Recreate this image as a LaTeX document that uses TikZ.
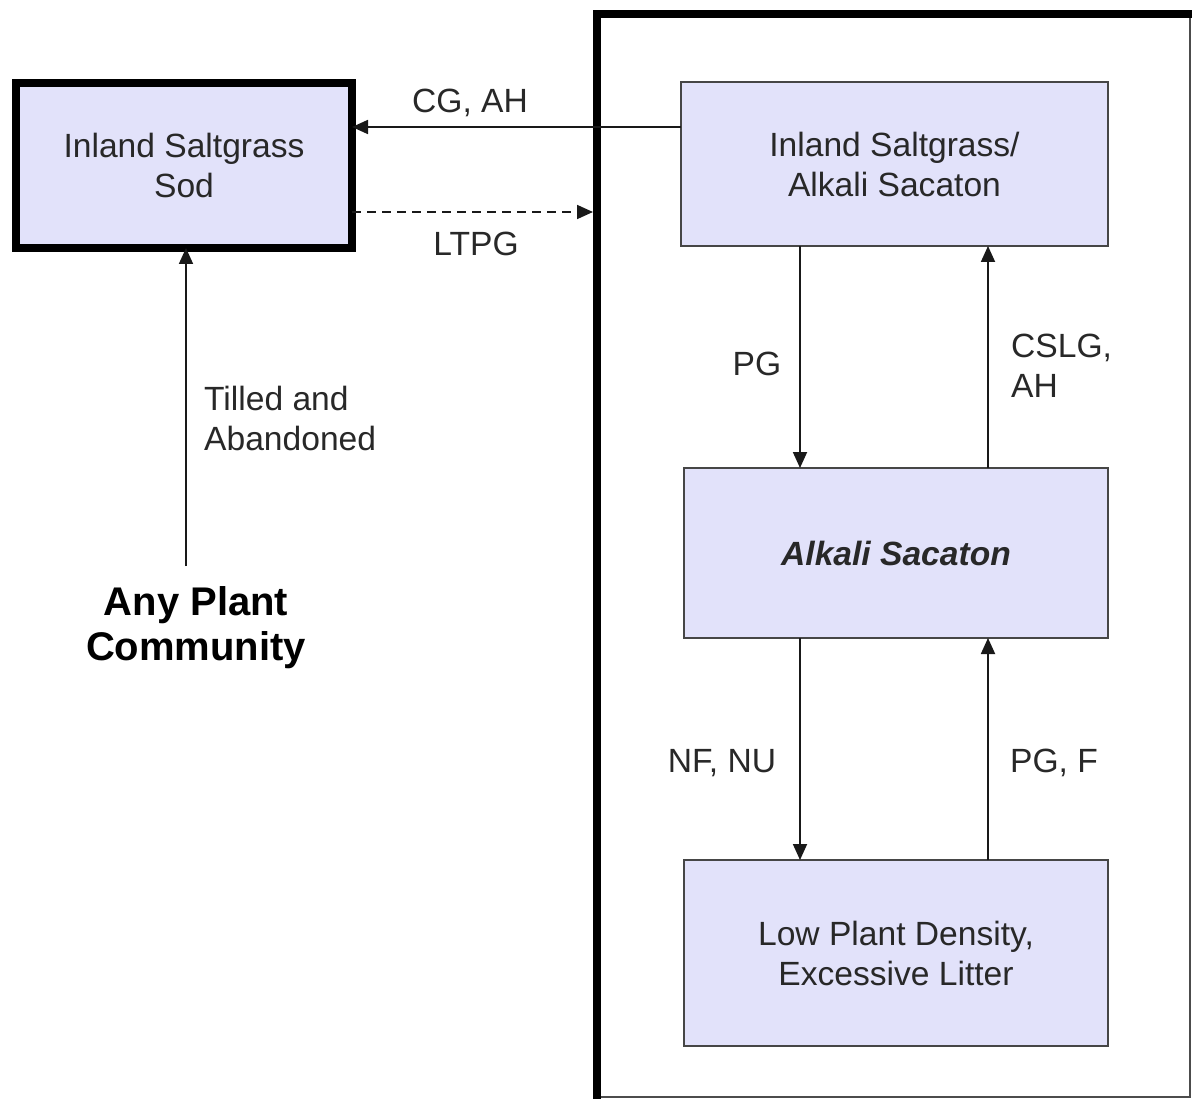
\documentclass[tikz,border=0pt]{standalone}
\usepackage{fontspec}
\setmainfont{Liberation Sans}
\usetikzlibrary{arrows.meta}
\definecolor{lav}{RGB}{226,226,250}
\definecolor{bord}{RGB}{70,70,70}
\definecolor{txt}{RGB}{40,40,40}
\tikzset{
  txtfont/.style={font=\fontsize{33.6}{40}\selectfont, text=txt},
  statebox/.style={draw=bord, line width=2.5pt, fill=lav, rectangle, inner sep=0pt, outer sep=0pt, align=center, txtfont},
  lbl/.style={txtfont, inner sep=0pt},
  arr/.style={draw=black!90, line width=1.8pt, -{Triangle[length=16pt,width=14pt]}},
}
\begin{document}
\begin{tikzpicture}[x=1pt,y=-1pt]
\useasboundingbox (0,0) rectangle (1192,1099);
\fill[white] (0,0) rectangle (1192,1099);
% frame
\node[rectangle, inner sep=0pt, outer sep=0pt, minimum width=593pt, minimum height=1083pt] (frame) at (893.5,555.5) {};
\draw[black!70, line width=1.5pt] (frame.north east) -- (frame.south east) -- (frame.south west);
\draw[black, line width=8pt, line cap=rect] (frame.south west) -- (frame.north west) -- (frame.north east);
% boxes
\node[statebox, draw=black, line width=8pt, minimum width=336pt, minimum height=165pt] (lbox) at (184,165.5) {Inland Saltgrass\\Sod};
\node[statebox, minimum width=427pt, minimum height=164pt] (b1) at (894.5,164) {Inland Saltgrass/\\Alkali Sacaton};
\node[statebox, minimum width=424pt, minimum height=170pt] (b2) at (896,553) {\bfseries\itshape Alkali Sacaton};
\node[statebox, minimum width=424pt, minimum height=186pt] (b3) at (896,953) {Low Plant Density,\\Excessive Litter};
\node[font=\fontsize{40}{45}\selectfont\bfseries, text=black, align=center, inner sep=0pt] (apc) at (196,628) {Any Plant\\Community};
% helper coordinates
\coordinate (ycg) at (0,127);
\coordinate (ylt) at (0,212);
\coordinate (xa) at (800,0);
\coordinate (xb) at (988,0);
\coordinate (tstart) at (186,566);
% connectors
\draw[arr] (b1.west |- ycg) -- (lbox.east |- ycg);
\draw[arr, dashed, dash pattern=on 9pt off 6pt, shorten >=4pt] (lbox.east |- ylt) -- (frame.west |- ylt);
\draw[arr] (b1.south -| xa) -- (b2.north -| xa);
\draw[arr] (b2.north -| xb) -- (b1.south -| xb);
\draw[arr] (b2.south -| xa) -- (b3.north -| xa);
\draw[arr] (b3.north -| xb) -- (b2.south -| xb);
\draw[arr] (tstart) -- (lbox.south -| tstart);
% labels
\node[lbl] (lcg) at (470,103) {CG, AH};
\node[lbl] (llt) at (476,244) {LTPG};
\node[lbl] (lpg) at (757,364) {PG};
\node[lbl, align=left, anchor=west] (lcs) at (1011,366) {CSLG,\\AH};
\node[lbl] (lnf) at (722,763) {NF, NU};
\node[lbl] (lpf) at (1054,763) {PG, F};
\node[lbl, align=left, anchor=west] (ltill) at (204,418) {Tilled and\\Abandoned};
\end{tikzpicture}
\end{document}
